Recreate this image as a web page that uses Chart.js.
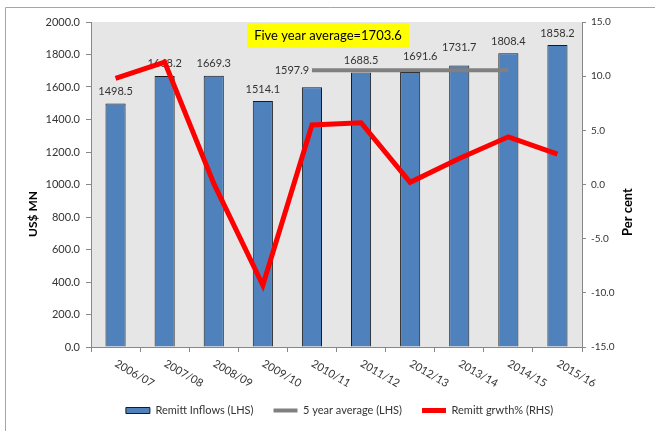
<!DOCTYPE html>
<html>
<head>
<meta charset="utf-8">
<script src="https://cdn.jsdelivr.net/npm/chart.js@4.4.1/dist/chart.umd.min.js"></script>
<style>
    html, body { margin: 0; padding: 0; background: #fff; }
    #wrap { width: 655px; height: 431px; }
</style>
</head>
<body>
<div id="wrap"><canvas id="remitChart" width="655" height="431"></canvas></div>
<script>
/* ---------- data ---------- */
const years = ['2006/07', '2007/08', '2008/09', '2009/10', '2010/11',
               '2011/12', '2012/13', '2013/14', '2014/15', '2015/16'];
const inflows = [1498.5, 1668.2, 1669.3, 1514.1, 1597.9, 1688.5, 1691.6, 1731.7, 1808.4, 1858.2];
const fiveYearAvg = [null, null, null, null, 1703.6, 1703.6, 1703.6, 1703.6, 1703.6, null];
const growthPct = [9.8, 11.3, 0.1, -9.3, 5.5, 5.7, 0.2, 2.4, 4.4, 2.8];
const leftTicks = [0, 200, 400, 600, 800, 1000, 1200, 1400, 1600, 1800, 2000];
const rightTicks = [-15, -10, -5, 0, 5, 10, 15];
const avgNote = 'Five year average=1703.6';

const FONT = 'Lato, "Liberation Sans", sans-serif';

// label nudges where Excel moved labels off the average line
const labelNudge = { 4: [-20, -5], 6: [10, -4], 7: [0, -6] };

const frame = {
    id: 'frame',
    afterLayout(chart) {
        // legend sits a little right of the canvas centre in the original
        chart.legend.left += 12;
        chart.legend.right += 12;
    },
    beforeDraw(chart) {
        const { ctx, chartArea: a } = chart;
        ctx.save();
        ctx.fillStyle = '#e6e6e6';
        ctx.fillRect(a.left, a.top, a.right - a.left, a.bottom - a.top);
        // outer border (only top and left show in the crop)
        ctx.strokeStyle = '#a6a6a6';
        ctx.lineWidth = 1;
        ctx.beginPath();
        ctx.moveTo(5.5, 431);
        ctx.lineTo(5.5, 7.5);
        ctx.lineTo(655, 7.5);
        ctx.stroke();
        ctx.restore();
    },
    afterDatasetDraw(chart, args) {
        if (args.index !== 0) return;
        const { ctx } = chart;
        const meta = chart.getDatasetMeta(0);
        ctx.save();
        ctx.font = '11px ' + FONT;
        ctx.fillStyle = '#333';
        ctx.textAlign = 'center';
        ctx.textBaseline = 'middle';
        meta.data.forEach((bar, i) => {
            const n = labelNudge[i] || [0, 0];
            ctx.fillText(inflows[i].toFixed(1), bar.x + n[0], bar.y - 12 + n[1]);
        });
        ctx.restore();
    },
    afterDraw(chart) {
        const { ctx, chartArea: a, scales } = chart;
        ctx.save();
        // rotated category labels
        ctx.font = '11px ' + FONT;
        ctx.fillStyle = '#333';
        ctx.textAlign = 'left';
        ctx.textBaseline = 'top';
        years.forEach((y, i) => {
            const x = scales.x.getPixelForValue(i);
            ctx.save();
            ctx.translate(x + 3, a.bottom + 11);
            ctx.rotate(30 * Math.PI / 180);
            ctx.fillText(y, 0, 0);
            ctx.restore();
        });
        // axis titles
        ctx.fillStyle = '#000';
        ctx.textAlign = 'center';
        ctx.textBaseline = 'middle';
        ctx.font = 'bold 12px ' + FONT;
        ctx.save();
        ctx.translate(33, 214);
        ctx.rotate(-Math.PI / 2);
        ctx.fillText('US$ MN', 0, 0);
        ctx.restore();
        ctx.font = 'bold 13px ' + FONT;
        ctx.save();
        ctx.translate(628, 212);
        ctx.rotate(-Math.PI / 2);
        ctx.fillText('Per cent', 0, 0);
        ctx.restore();
        // yellow note
        ctx.fillStyle = '#ffff00';
        ctx.fillRect(a.left + 156, a.top + 1, 162, 25);
        ctx.fillStyle = '#000';
        ctx.font = '13px ' + FONT;
        ctx.fillText(avgNote, a.left + 237, a.top + 14);
        ctx.restore();
    }
};

new Chart(document.getElementById('remitChart'), {
    type: 'bar',
    data: {
        labels: years,
        datasets: [
            {
                label: 'Remitt Inflows (LHS)',
                data: inflows,
                yAxisID: 'y',
                backgroundColor: '#4f81bd',
                borderColor: '#1a1a1a',
                borderWidth: 1,
                barPercentage: 0.41,
                categoryPercentage: 1,
                pointStyle: 'rect',
                order: 3
            },
            {
                type: 'line',
                label: '5 year average (LHS)',
                data: fiveYearAvg,
                yAxisID: 'y',
                borderColor: '#808080',
                backgroundColor: '#808080',
                borderWidth: 4,
                pointRadius: 0,
                pointStyle: 'line',
                order: 2
            },
            {
                type: 'line',
                label: 'Remitt grwth% (RHS)',
                data: growthPct,
                yAxisID: 'y1',
                borderColor: '#ff0000',
                backgroundColor: '#ff0000',
                borderWidth: 5,
                pointRadius: 0,
                tension: 0,
                pointStyle: 'line',
                order: 1
            }
        ]
    },
    options: {
        responsive: false,
        animation: false,
        layout: { padding: { top: 22, left: 0, right: 0, bottom: 5 } },
        plugins: {
            legend: {
                position: 'bottom',
                labels: {
                    usePointStyle: true,
                    pointStyleWidth: 24,
                    boxHeight: 6,
                    padding: 20,
                    color: '#333',
                    font: { family: FONT, size: 11 },
                    sort: (a, b) => a.datasetIndex - b.datasetIndex
                }
            },
            tooltip: { enabled: false }
        },
        scales: {
            x: {
                grid: { display: true, drawOnChartArea: false, offset: true, tickLength: 5, color: '#888' },
                border: { color: '#888' },
                ticks: { display: false },
                afterFit: s => { s.height = 38; }
            },
            y: {
                position: 'left',
                min: 0,
                max: 2000,
                afterBuildTicks: s => { s.ticks = leftTicks.map(v => ({ value: v })); },
                grid: { drawOnChartArea: false, tickLength: 5, color: '#888' },
                border: { color: '#888' },
                ticks: {
                    padding: 6,
                    color: '#333',
                    font: { family: FONT, size: 11 },
                    callback: v => Number(v).toFixed(1)
                },
                afterFit: s => { s.width = 91; }
            },
            y1: {
                position: 'right',
                min: -15,
                max: 15,
                afterBuildTicks: s => { s.ticks = rightTicks.map(v => ({ value: v })); },
                grid: { drawOnChartArea: false, tickLength: 4, color: '#888' },
                border: { color: '#888' },
                ticks: {
                    padding: 5,
                    color: '#333',
                    font: { family: FONT, size: 10 },
                    callback: v => Number(v).toFixed(1)
                },
                afterFit: s => { s.width = 73; }
            }
        }
    },
    plugins: [frame]
});
</script>
</body>
</html>
